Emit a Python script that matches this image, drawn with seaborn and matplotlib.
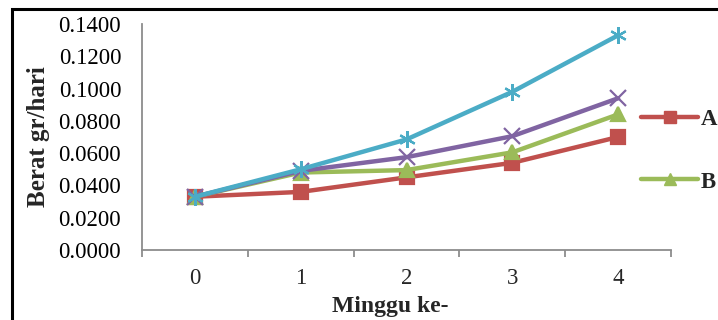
import matplotlib
matplotlib.use("Agg")
import matplotlib.pyplot as plt
import seaborn as sns
import pandas as pd
import numpy as np
from matplotlib.lines import Line2D
from matplotlib.patches import Rectangle

# Weekly weight gain (gr/day) per treatment
minggu = [0, 1, 2, 3, 4]
perlakuan_a = [0.0330, 0.0360, 0.0450, 0.0540, 0.0700]
perlakuan_b = [0.0330, 0.0480, 0.0495, 0.0605, 0.0840]
perlakuan_c = [0.0330, 0.0490, 0.0575, 0.0705, 0.0940]
perlakuan_d = [0.0330, 0.0500, 0.0685, 0.0980, 0.1330]
y_ticks = [0.0, 0.02, 0.04, 0.06, 0.08, 0.10, 0.12, 0.14]

series = {"A": perlakuan_a, "B": perlakuan_b, "C": perlakuan_c, "D": perlakuan_d}
colors = {"A": "#C0504D", "B": "#9BBB59", "C": "#8064A2", "D": "#4BACC6"}
markers = {"A": "s", "B": "^", "C": "x", "D": (6, 2, 0)}
msize = {"A": 10, "B": 10, "C": 11, "D": 12}

df = pd.DataFrame(
    [(k, m, v) for k, vals in series.items() for m, v in zip(minggu, vals)],
    columns=["perlakuan", "minggu", "berat"],
)

sns.set_theme(style="white")
plt.rcParams["font.family"] = ["Liberation Serif", "DejaVu Serif"]

TICK_FS = 16.5

fig = plt.figure(figsize=(7.18, 3.2), dpi=100)
ax = fig.add_axes([142 / 718, 1 - 250 / 320, (671 - 142) / 718, 226 / 320])

for name in series:
    sub = df[df["perlakuan"] == name]
    sns.lineplot(
        data=sub, x="minggu", y="berat", ax=ax,
        color=colors[name], marker=markers[name], markersize=msize[name],
        markeredgecolor=colors[name], markerfacecolor=colors[name],
        markeredgewidth=1.6, linewidth=3.2, legend=False,
    )

ax.set_xlim(-0.5, 4.5)
ax.set_ylim(0, 0.14)
ax.set_yticks(y_ticks)
ax.set_yticklabels([f"{v:.4f}" for v in y_ticks])
ax.set_xticks(np.arange(-0.5, 5.0, 1.0))
ax.set_xticklabels([])
ax.set_xticks(minggu, minor=True)
ax.set_xticklabels([str(m) for m in minggu], minor=True)

for s in ["top", "right"]:
    ax.spines[s].set_visible(False)
for s in ["left", "bottom"]:
    ax.spines[s].set_color("#8C8C8C")
    ax.spines[s].set_linewidth(1.3)

ax.tick_params(axis="both", which="major", direction="out", length=5,
               width=1.3, color="#8C8C8C", labelsize=TICK_FS, labelcolor="black")
ax.tick_params(axis="y", pad=10)
ax.tick_params(axis="x", which="minor", length=0, labelsize=TICK_FS, pad=13)
ax.tick_params(axis="x", which="major", bottom=True)

ax.set_xlabel("Minggu ke-", fontsize=17, fontweight="bold")
ax.xaxis.set_label_coords((390 - 142) / (671 - 142), -0.205)
ax.set_ylabel("Berat gr/hari", fontsize=18, fontweight="bold")
ax.yaxis.set_label_coords(-(142 - 50) / (671 - 142), 0.5)

handles = [
    Line2D([0], [0], color=colors[k], marker=markers[k], markersize=msize[k] - 1,
           markerfacecolor=colors[k], markeredgecolor=colors[k], linewidth=3.2,
           solid_capstyle="round")
    for k in ["A", "B"]
]
leg = fig.legend(handles, ["A", "B"], loc="upper left",
                 bbox_to_anchor=(632 / 718, 1 - 100 / 320), frameon=False,
                 prop={"size": TICK_FS, "weight": "bold"}, handlelength=2.5,
                 handletextpad=0.1, labelspacing=1.8, borderaxespad=0)

# chart frame
fig.patches.append(Rectangle((12 / 718, -0.1), 1.2, (1 - 9 / 320) + 0.1,
                             transform=fig.transFigure, fill=False,
                             edgecolor="black", linewidth=2.2))

fig.savefig("out.png", dpi=100)
